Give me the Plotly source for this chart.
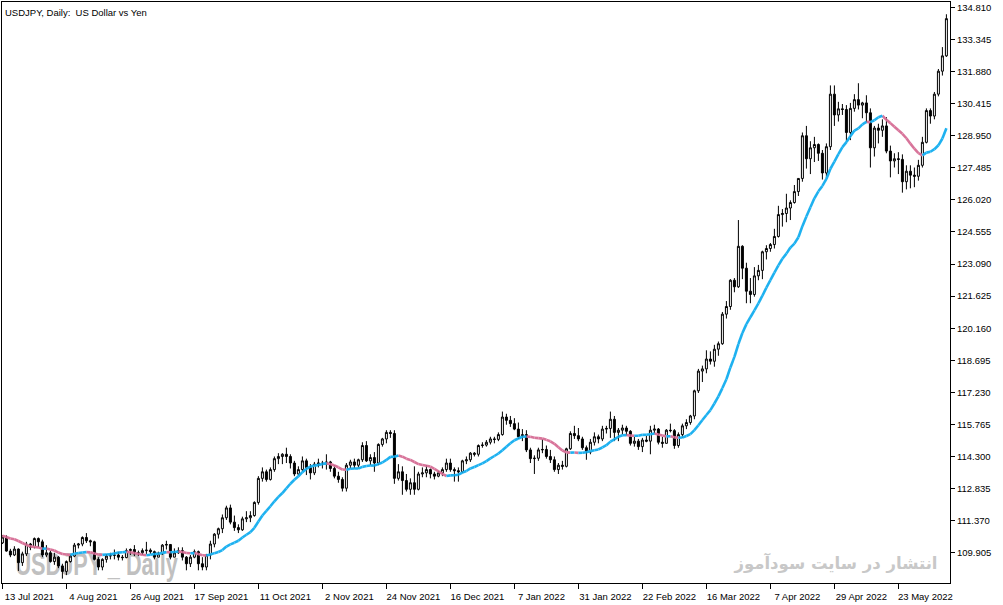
import plotly.graph_objects as go
import pandas as pd

# ---------------- data ----------------
dates = pd.bdate_range("2021-07-13", "2022-06-08").strftime("%Y-%m-%d").tolist()

opens = [110.35,110.62,109.98,109.80,110.07,109.45,109.85,110.30,110.15,110.55,
         110.40,109.80,109.90,109.50,109.70,109.30,109.05,109.50,109.75,110.25,
         110.30,110.60,110.45,110.40,109.60,109.25,109.60,109.75,109.78,109.80,
         109.70,109.68,110.00,110.05,109.85,109.90,110.00,110.02,109.95,109.70,
         109.85,110.25,110.28,109.70,109.90,110.00,109.70,109.40,109.70,109.95,
         109.40,109.25,109.80,110.30,110.75,111.00,111.50,111.95,111.30,111.05,
         110.95,111.45,111.50,111.60,112.20,113.30,113.60,113.25,113.70,114.20,
         114.30,114.40,114.30,114.00,113.50,113.70,114.10,113.80,113.55,113.95,
         114.00,113.95,114.05,113.75,113.40,113.25,112.85,113.90,114.05,113.90,
         114.15,114.80,114.10,114.25,114.00,114.85,115.10,115.40,115.35,113.30,
         113.60,113.20,112.80,113.10,112.80,113.50,113.55,113.70,113.50,113.40,
         113.55,113.70,114.00,113.70,113.65,113.60,114.10,114.15,114.45,114.40,
         114.80,114.82,114.95,115.10,115.08,115.30,116.10,115.95,115.80,115.55,
         115.20,115.30,114.60,114.20,114.22,114.60,114.62,114.30,114.15,113.70,
         113.90,113.85,114.65,115.35,115.25,115.10,114.70,114.50,114.95,115.20,
         115.10,115.55,115.58,116.00,115.40,115.50,115.60,115.45,114.90,115.00,
         114.75,115.05,115.00,115.50,115.55,114.95,114.90,115.50,115.48,114.80,
         115.30,115.70,115.85,116.15,117.30,118.20,118.30,118.75,118.65,119.20,
         119.45,120.80,121.15,122.35,122.05,123.90,122.90,121.85,121.70,122.55,
         122.80,123.65,123.80,123.98,124.35,125.35,125.40,125.65,125.90,126.40,
         127.00,128.95,127.90,128.40,128.55,128.15,127.25,128.45,130.85,129.90,
         130.18,130.15,129.10,130.20,130.60,130.35,130.45,130.00,128.40,129.30,
         129.20,129.40,128.25,127.80,127.90,127.87,126.85,127.33,127.15,127.10,
         127.60,128.65,130.10,129.85,130.85,131.90,132.60]

highs = [110.70,110.70,110.08,110.20,110.10,109.95,110.40,110.35,110.60,110.60,
         110.50,110.25,110.00,109.90,109.75,109.40,109.55,109.80,110.35,110.35,
         110.65,110.80,110.50,110.45,109.70,109.65,109.85,109.90,110.05,109.95,
         109.80,110.10,110.10,110.25,110.00,110.10,110.40,110.10,110.00,109.95,
         110.30,110.45,110.28,110.10,110.15,110.15,109.75,109.80,110.05,110.00,
         109.70,109.85,110.45,110.80,111.05,111.65,112.05,112.10,111.60,111.20,
         111.55,111.80,111.80,112.25,113.40,113.80,113.70,113.80,114.30,114.45,
         114.45,114.70,114.40,114.10,113.85,114.30,114.20,113.95,114.05,114.20,
         114.10,114.40,114.10,113.90,113.60,113.35,114.00,114.15,114.20,114.20,
         114.95,115.00,114.40,114.50,114.90,115.15,115.50,115.50,115.50,113.95,
         113.85,113.50,113.30,113.85,113.60,113.80,113.90,113.75,113.60,113.65,
         113.80,114.20,114.20,113.80,113.80,114.15,114.30,114.50,114.50,114.85,
         114.95,115.05,115.20,115.20,115.40,116.35,116.25,116.15,116.05,115.85,
         115.55,115.50,114.70,114.35,114.70,115.10,114.80,114.60,114.30,114.00,
         114.10,114.70,115.45,115.70,115.60,115.20,114.80,115.10,115.40,115.30,
         115.70,115.70,116.35,116.15,115.60,115.75,115.70,115.50,115.20,115.10,
         115.15,115.25,115.70,115.75,115.60,115.20,115.55,115.80,115.55,115.40,
         115.80,116.00,116.20,117.35,118.30,118.45,119.15,119.10,119.40,119.55,
         120.90,121.40,122.40,122.45,125.10,123.95,123.15,122.45,122.95,123.05,
         123.70,123.95,124.05,124.70,125.75,125.60,126.30,126.00,126.70,127.00,
         129.10,129.40,128.70,128.90,128.60,128.30,128.60,131.25,131.25,130.50,
         130.40,130.35,130.45,130.85,131.35,130.50,130.80,130.20,129.40,129.50,
         129.70,129.80,128.50,128.15,128.20,128.10,127.60,127.60,127.50,127.85,
         128.90,130.20,130.20,130.95,132.00,133.00,134.50]

lows = [110.30,109.95,109.70,109.75,109.07,109.30,109.75,110.02,110.10,110.15,
        109.70,109.70,109.45,109.35,109.20,108.72,108.88,109.45,109.70,110.10,
        110.20,110.35,110.20,109.55,109.10,109.10,109.45,109.60,109.60,109.55,
        109.55,109.65,109.80,109.75,109.75,109.80,109.85,109.85,109.60,109.70,
        109.80,110.05,109.60,109.70,109.85,109.55,109.10,109.25,109.65,109.10,
        109.10,109.10,109.60,110.15,110.55,110.80,111.40,111.20,110.90,110.80,
        110.90,111.30,111.30,111.55,112.10,113.15,113.15,113.20,113.60,113.95,
        113.95,114.00,113.75,113.40,113.40,113.60,113.45,113.25,113.45,113.80,
        113.75,113.70,113.60,113.30,113.10,112.70,112.70,113.75,113.75,113.75,
        114.05,114.05,113.90,113.60,113.90,114.75,114.90,115.15,113.05,113.20,
        112.55,112.70,112.55,112.55,112.75,113.35,113.35,113.30,113.25,113.35,
        113.40,113.60,113.60,113.15,113.15,113.55,113.95,114.05,114.30,114.30,
        114.70,114.75,114.85,114.90,115.00,115.25,115.75,115.65,115.50,115.10,
        115.00,114.50,114.00,113.50,114.10,114.45,114.20,114.00,113.60,113.50,
        113.70,113.80,114.60,115.10,115.00,114.60,114.15,114.40,114.80,114.90,
        115.00,115.35,115.15,115.00,115.00,115.30,115.25,114.80,114.75,114.60,
        114.50,114.95,114.40,115.35,114.85,114.70,114.90,115.40,114.65,114.70,
        115.15,115.55,115.75,116.00,117.20,117.70,118.10,118.50,118.40,118.90,
        119.40,120.60,121.00,121.80,122.00,122.40,121.30,121.30,121.60,122.35,
        122.40,123.30,123.65,123.80,124.30,124.80,125.00,125.10,125.85,126.20,
        126.85,127.45,127.20,127.75,127.80,126.95,127.00,128.30,129.40,129.60,
        129.90,128.65,128.75,130.05,130.15,129.75,129.55,127.50,128.00,128.60,
        128.90,128.15,127.05,127.50,127.20,126.35,126.50,126.55,126.60,126.90,
        127.50,128.60,129.50,129.70,130.75,131.70,132.55]

closes = [110.62,109.98,109.80,110.07,109.45,109.85,110.30,110.15,110.55,110.40,
          109.80,109.90,109.50,109.70,109.30,109.05,109.50,109.75,110.25,110.30,
          110.60,110.45,110.40,109.60,109.25,109.60,109.75,109.78,109.80,109.70,
          109.68,110.00,110.05,109.85,109.90,110.00,110.02,109.95,109.70,109.85,
          110.25,110.28,109.70,109.90,110.00,109.70,109.40,109.70,109.95,109.40,
          109.25,109.80,110.30,110.75,111.00,111.50,111.95,111.30,111.05,110.95,
          111.45,111.50,111.60,112.20,113.30,113.60,113.25,113.70,114.20,114.30,
          114.40,114.30,114.00,113.50,113.70,114.10,113.80,113.55,113.95,114.00,
          113.95,114.05,113.75,113.40,113.25,112.85,113.90,114.05,113.90,114.15,
          114.80,114.10,114.25,114.00,114.85,115.10,115.40,115.35,113.30,113.60,
          113.20,112.80,113.10,112.80,113.50,113.55,113.70,113.50,113.40,113.55,
          113.70,114.00,113.70,113.65,113.60,114.10,114.15,114.45,114.40,114.80,
          114.82,114.95,115.10,115.08,115.30,116.10,115.95,115.80,115.55,115.20,
          115.30,114.60,114.20,114.22,114.60,114.62,114.30,114.15,113.70,113.90,
          113.85,114.65,115.35,115.25,115.10,114.70,114.50,114.95,115.20,115.10,
          115.55,115.58,116.00,115.40,115.50,115.60,115.45,114.90,115.00,114.75,
          115.05,115.00,115.50,115.55,114.95,114.90,115.50,115.48,114.80,115.30,
          115.70,115.85,116.15,117.30,118.20,118.30,118.75,118.65,119.20,119.45,
          120.80,121.15,122.35,122.05,123.90,122.90,121.85,121.70,122.55,122.80,
          123.65,123.80,123.98,124.35,125.35,125.40,125.65,125.90,126.40,127.00,
          128.95,127.90,128.40,128.55,128.15,127.25,128.45,130.85,129.90,130.18,
          130.15,129.10,130.20,130.60,130.35,130.45,130.00,128.40,129.30,129.20,
          129.40,128.25,127.80,127.90,127.87,126.85,127.33,127.15,127.10,127.60,
          128.65,130.10,129.85,130.85,131.90,132.60,134.30]

# closes of the 14 sessions before the first visible bar (MA warm-up only)
pre_closes = [110.95,110.85,110.75,110.60,110.55,111.10,111.55,111.05,110.95,
              110.65,110.65,109.75,110.15,110.35]

tick_labels = ["13 Jul 2021", "4 Aug 2021", "26 Aug 2021", "17 Sep 2021",
               "11 Oct 2021", "2 Nov 2021", "24 Nov 2021", "16 Dec 2021",
               "7 Jan 2022", "31 Jan 2022", "22 Feb 2022", "16 Mar 2022",
               "7 Apr 2022", "29 Apr 2022", "23 May 2022"]
tick_dates = ["2021-07-13", "2021-08-04", "2021-08-26", "2021-09-17",
              "2021-10-11", "2021-11-02", "2021-11-24", "2021-12-16",
              "2022-01-07", "2022-01-31", "2022-02-22", "2022-03-16",
              "2022-04-07", "2022-04-29", "2022-05-23"]

price_labels = ["134.810", "133.345", "131.880", "130.415", "128.950", "127.485",
                "126.020", "124.555", "123.090", "121.625", "120.160", "118.695",
                "117.230", "115.765", "114.300", "112.835", "111.370", "109.905"]

ma_period = 14

# ---------------- indicator ----------------
all_closes = pd.Series(pre_closes + closes)
ma_full = all_closes.rolling(ma_period).mean().tolist()[len(pre_closes) - 1:]
# ma_full[k] is the MA at bar k-1 (k=0 is the session before the first visible one)

BLUE = "#1EB1F0"
PINK = "#D8749A"
bx, by, px, py = [], [], [], []
for i in range(1, len(dates)):
    a, b = ma_full[i], ma_full[i + 1]
    if b >= a:
        bx += [dates[i - 1], dates[i], None]; by += [a, b, None]
    else:
        px += [dates[i - 1], dates[i], None]; py += [a, b, None]

FONT = "Liberation Sans, Arial, sans-serif"

fig = go.Figure()
fig.add_trace(go.Candlestick(
    x=dates, open=opens, high=highs, low=lows, close=closes,
    increasing=dict(fillcolor="#FFFFFF", line=dict(color="#000000", width=1)),
    decreasing=dict(fillcolor="#000000", line=dict(color="#000000", width=1)),
    whiskerwidth=0, showlegend=False, name="USDJPY"))
fig.add_trace(go.Scatter(x=px, y=py, mode="lines", line=dict(color=PINK, width=2.6),
                         showlegend=False, hoverinfo="skip"))
fig.add_trace(go.Scatter(x=bx, y=by, mode="lines", line=dict(color=BLUE, width=2.6),
                         showlegend=False, hoverinfo="skip"))

fig.update_layout(
    width=1003, height=605,
    margin=dict(l=2, r=53, t=2, b=22, autoexpand=False),
    paper_bgcolor="#FFFFFF", plot_bgcolor="#FFFFFF",
    font=dict(family=FONT, size=9, color="#000000"),
    showlegend=False, hovermode=False,
    xaxis=dict(type="category", categoryorder="array", categoryarray=dates,
               range=[-0.1, len(dates) - 0.1],
               rangeslider=dict(visible=False),
               showgrid=False, zeroline=False,
               showline=True, linecolor="#000000", linewidth=1, mirror=True,
               ticks="outside", ticklen=5, tickcolor="#000000", tickwidth=1,
               tickmode="array", tickvals=tick_dates, ticktext=tick_labels,
               ticklabelshift=27, tickfont=dict(family=FONT, size=9.5)),
    yaxis=dict(side="right", range=[108.52, 135.06],
               showgrid=False, zeroline=False,
               showline=True, linecolor="#000000", linewidth=1, mirror=True,
               ticks="outside", ticklen=4, tickcolor="#000000", tickwidth=1,
               tickmode="array", tickvals=[float(v) for v in price_labels],
               ticktext=price_labels, tickfont=dict(family=FONT, size=9.5)),
)

# chart caption
fig.add_annotation(xref="paper", yref="paper", x=0, y=1, xanchor="left", yanchor="top",
                   xshift=1, yshift=-3, showarrow=False,
                   text="USDJPY, Daily:\u00a0\u00a0US Dollar vs Yen",
                   font=dict(family=FONT, size=9.5, color="#000000"))

# background watermarks (drawn below the candles)
fig.add_shape(type="rect", xref="paper", yref="paper", x0=0.011, x1=0.4, y0=0.007, y1=0.12,
              line=dict(width=0), fillcolor="rgba(0,0,0,0)", layer="below",
              label=dict(text="USDJPY _ Daily", textposition="bottom left", padding=0,
                         font=dict(family="Liberation Sans", size=31,
                                   color="#C0C0C0", weight="bold")))
fig.add_shape(type="rect", xref="paper", yref="paper", x0=0.6, x1=0.99, y0=0.014, y1=0.12,
              line=dict(width=0), fillcolor="rgba(0,0,0,0)", layer="below",
              label=dict(text="انتشار در سایت سودآموز", textposition="bottom right", padding=0,
                         font=dict(family="DejaVu Sans", size=16.5, color="#C8C8C8", weight="bold")))

# page without the browser's default body margin; the big watermark is drawn condensed
post = """
document.body.style.margin = '0';
document.body.style.overflow = 'hidden';
document.querySelectorAll('text').forEach(function (t) {
  if (t.textContent.indexOf('USDJPY _ Daily') === 0) {
    var bb = t.getBBox();
    var x = bb.x, y = bb.y + bb.height;
    var old = t.getAttribute('transform') || '';
    t.setAttribute('transform', 'translate(' + x + ',' + y + ') scale(0.7,1.04) translate(' + (-x) + ',' + (-y) + ') ' + old);
  }
});
"""
fig.write_html("out.html", post_script=post, config={"displayModeBar": False})
